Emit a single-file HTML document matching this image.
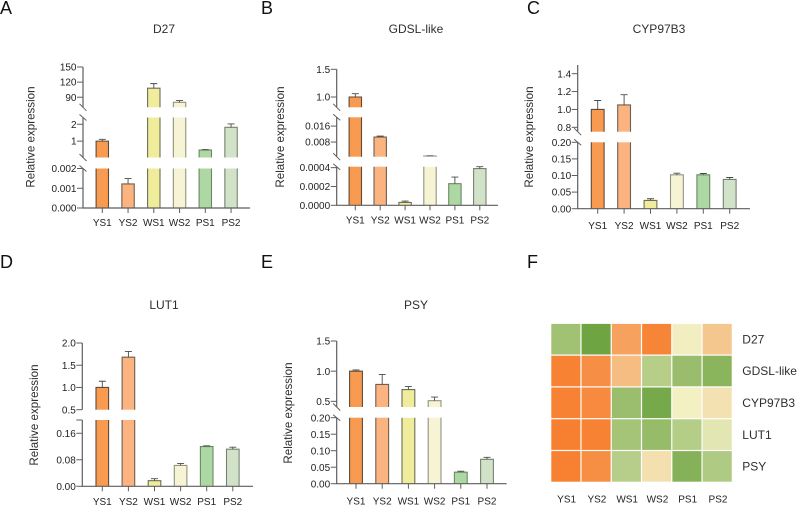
<!DOCTYPE html>
<html lang="en">
<head>
<meta charset="utf-8">
<title>Relative expression of carotenoid genes</title>
<style>
html,body{margin:0;padding:0;background:#fff;width:798px;height:507px;overflow:hidden}
svg{display:block;font-family:"Liberation Sans",sans-serif;fill:#333}
.letter{font-size:18px;fill:#111}
.title{font-size:12px;text-anchor:middle;fill:#2e2e2e}
.ytitle{font-size:11.6px;text-anchor:middle;fill:#2e2e2e}
.tick{font-size:10px;text-anchor:end;fill:#222}
.xlab{font-size:10px;text-anchor:middle;fill:#222}
.rowlab{font-size:12px;fill:#2e2e2e}
</style>
</head>
<body>
<svg id="fig" width="798" height="507" viewBox="0 0 798 507" xmlns="http://www.w3.org/2000/svg">
  <text class="letter" x="0" y="14">A</text>
  <text class="letter" x="261" y="14">B</text>
  <text class="letter" x="527" y="14">C</text>
  <text class="letter" x="0" y="268">D</text>
  <text class="letter" x="261" y="268">E</text>
  <text class="letter" x="527" y="268">F</text>

  <text class="title" x="164" y="33">D27</text>
  <text class="title" x="416" y="33">GDSL-like</text>
  <text class="title" x="659" y="33">CYP97B3</text>
  <text class="title" x="164" y="309">LUT1</text>
  <text class="title" x="416" y="309">PSY</text>

  <text class="ytitle" transform="translate(34.5 137) rotate(-90)">Relative expression</text>
  <text class="ytitle" transform="translate(284 137) rotate(-90)">Relative expression</text>
  <text class="ytitle" transform="translate(533 137) rotate(-90)">Relative expression</text>
  <text class="ytitle" transform="translate(38 415) rotate(-90)">Relative expression</text>
  <text class="ytitle" transform="translate(292 413) rotate(-90)">Relative expression</text>
</svg>
<script>
// ---------- shared categories ----------
const samples = ["YS1", "YS2", "WS1", "WS2", "PS1", "PS2"];

// ---------- D27 ----------
const d27Values = [1, 0.00122, 108, 80, 0.47, 1.82];
const d27Errors = [0.11, 0.00027, 9, 3.4, 0.03, 0.2];
const d27Domains = [[0, 0.002], [0.03, 2.4], [70, 150]];
const d27Ticks = [0, 0.001, 0.002, 1, 2, 90, 120, 150];
const d27TickLabels = ["0.000", "0.001", "0.002", "1", "2", "90", "120", "150"];

// ---------- GDSL-like ----------
const gdslValues = [1, 0.0105, 0.00003, 0.001, 0.00023, 0.00039];
const gdslErrors = [0.06, 0.0005, 0.000015, 0.0001, 0.00007, 0.00002];
const gdslDomains = [[0, 0.00041], [0.00065, 0.0204], [0.814, 1.5]];
const gdslTicks = [0, 0.0002, 0.0004, 0.008, 0.016, 1, 1.5];
const gdslTickLabels = ["0.0000", "0.0002", "0.0004", "0.008", "0.016", "1.0", "1.5"];

// ---------- CYP97B3 ----------
const cypValues = [1, 1.05, 0.025, 0.102, 0.102, 0.088];
const cypErrors = [0.1, 0.115, 0.005, 0.005, 0.004, 0.006];
const cypDomains = [[0, 0.2], [0.751, 1.497]];
const cypTicks = [0, 0.05, 0.1, 0.15, 0.2, 0.8, 1, 1.2, 1.4];
const cypTickLabels = ["0.00", "0.05", "0.10", "0.15", "0.20", "0.8", "1.0", "1.2", "1.4"];

// ---------- LUT1 ----------
const lutValues = [1, 1.68, 0.017, 0.063, 0.12, 0.112];
const lutErrors = [0.14, 0.13, 0.006, 0.006, 0.002, 0.006];
const lutDomains = [[0, 0.2], [0.5, 2]];
const lutTicks = [0, 0.08, 0.16, 0.2, 0.5, 1, 1.5, 2];
const lutTickLabels = ["0.00", "0.08", "0.16", "", "0.5", "1.0", "1.5", "2.0"];

// ---------- PSY ----------
const psyValues = [1, 0.78, 0.695, 0.51, 0.035, 0.074];
const psyErrors = [0.02, 0.165, 0.05, 0.06, 0.003, 0.006];
const psyDomains = [[0, 0.2], [0.406, 1.5]];
const psyTicks = [0, 0.05, 0.1, 0.15, 0.2, 0.5, 1, 1.5];
const psyTickLabels = ["0.00", "0.05", "0.10", "0.15", "0.20", "0.5", "1.0", "1.5"];

// ---------- heatmap ----------
const heatRows = ["D27", "GDSL-like", "CYP97B3", "LUT1", "PSY"];
const heatD27 = [-0.62, -1, 0.69, 0.95, 0.02, 0.36];
const heatGdsl = [0.97, 0.86, 0.45, -0.46, -0.68, -0.79];
const heatCyp = [0.97, 0.9, -0.67, -0.95, 0, 0.13];
const heatLut = [1, 0.97, -0.59, -0.7, -0.47, -0.13];
const heatPsy = [0.99, 0.87, -0.45, 0.14, -0.83, -0.51];

// ---------- drawing ----------
const NS = "http://www.w3.org/2000/svg";
const fig = document.getElementById("fig");
const BAR_FILLS = ["#F89A50", "#FBB380", "#EFEC9C", "#F6F4D4", "#ADD8A3", "#D2E2C9"];
const BAR_STROKES = ["#5f4a38", "#6f5f50", "#6e6e55", "#93937e", "#6a8864", "#75836d"];
const AXIS = "#5e5e5e";

function mk(tag, attrs, parent) {
  const n = document.createElementNS(NS, tag);
  for (const k in attrs) n.setAttribute(k, attrs[k]);
  parent.appendChild(n);
  return n;
}

function drawBarChart(key, cfg) {
  const g = mk("g", {}, fig);
  
  

  const segs = cfg.domains.map((d, i) => ({ lo: d[0], hi: d[1], bottom: cfg.ranges[i][0], top: cfg.ranges[i][1] }));
  const onSeg = (s, v) => s.bottom + (Math.max(v, s.lo) - s.lo) / (s.hi - s.lo) * (s.top - s.bottom);
  const segFor = (v) => {
    for (const s of segs) if (v <= s.hi + 1e-12) return s;
    return segs[segs.length - 1];
  };
  const yScale = (v) => onSeg(segFor(v), v);
  const n = cfg.categories.length;
  const xScale = (i) => cfg.x0 + i * cfg.step;

  // bars
  cfg.values.forEach((v, i) => {
    const cx = xScale(i), left = cx - cfg.barW / 2, right = cx + cfg.barW / 2;
    const stroke = BAR_STROKES[i];
    const bar = mk("g", {}, g);
    
    
    const home = segFor(v);
    for (const s of segs) {
      if (s.lo > v) continue;
      const top = s === home ? onSeg(s, v) : s.top;
      const fill = mk("rect", { x: left, y: top, width: cfg.barW, height: Math.max(0, s.bottom - top), fill: BAR_FILLS[i] }, bar);
      
      
      const outline = mk("path", {
        d: "M" + left + " " + s.bottom + "V" + top + (s === home ? "H" + right : "M" + right + " " + top) + "V" + s.bottom,
        fill: "none", stroke: stroke, "stroke-width": 1.1
      }, bar);
      
      
    }
    const yTop = yScale(v), yErr = onSeg(home, v + cfg.errors[i]);
    const err = mk("path", {
      d: "M" + cx + " " + yTop + "V" + yErr + "M" + (cx - 3.5) + " " + yErr + "H" + (cx + 3.5),
      fill: "none", stroke: "#4a4a4a", "stroke-width": 0.9
    }, bar);
    
    
  });

  // y axis segments + break marks
  segs.forEach((s, idx) => {
    const line = mk("line", { x1: cfg.axisX, x2: cfg.axisX, y1: s.bottom, y2: s.top, stroke: AXIS, "stroke-width": 1.2 }, g);
    
    
    if (cfg.slashes) {
      if (idx > 0) {
        const a = mk("line", { x1: cfg.axisX - 3.5, x2: cfg.axisX + 3.5, y1: s.bottom - 3.5, y2: s.bottom + 3.5, stroke: AXIS, "stroke-width": 1 }, g);
        
        
      }
      if (idx < segs.length - 1) {
        const b = mk("line", { x1: cfg.axisX - 3.5, x2: cfg.axisX + 3.5, y1: s.top - 3, y2: s.top + 3, stroke: AXIS, "stroke-width": 1 }, g);
        
        
      }
    }
  });

  // y ticks
  cfg.ticks.forEach((t, i) => {
    const y = yScale(t);
    const tick = mk("line", { x1: cfg.axisX - 6, x2: cfg.axisX, y1: y, y2: y, stroke: AXIS, "stroke-width": 1 }, g);
    
    
    if (cfg.tickLabels[i]) {
      const lab = mk("text", { class: "tick", x: cfg.axisX - 6.5, y: y + 3.6 }, g);
      lab.textContent = cfg.tickLabels[i];
      
      
    }
  });

  // x axis
  const xAxis = mk("line", { x1: cfg.axisX - 0.6, x2: cfg.axisEnd, y1: segs[0].bottom, y2: segs[0].bottom, stroke: AXIS, "stroke-width": 1.2 }, g);
  
  
  for (let i = 0; i < n; i++) {
    const cx = xScale(i);
    const tick = mk("line", { x1: cx, x2: cx, y1: segs[0].bottom, y2: segs[0].bottom + 5, stroke: AXIS, "stroke-width": 1 }, g);
    
    
    const lab = mk("text", { class: "xlab", x: cx, y: cfg.labelY }, g);
    lab.textContent = cfg.categories[i];
    
    
  }
}

drawBarChart("d27", {
  categories: samples, values: d27Values, errors: d27Errors, domains: d27Domains,
  ticks: d27Ticks, tickLabels: d27TickLabels,
  ranges: [[208, 168.5], [157.5, 117.5], [107.3, 67]],
  slashes: true, axisX: 83, axisEnd: 250, x0: 102.3, step: 25.75, barW: 12.4, labelY: 226
});
drawBarChart("gdsl-like", {
  categories: samples, values: gdslValues, errors: gdslErrors, domains: gdslDomains,
  ticks: gdslTicks, tickLabels: gdslTickLabels,
  ranges: [[205.3, 166.7], [156.7, 117.3], [107.3, 69.3]],
  slashes: true, axisX: 336.7, axisEnd: 498, x0: 355.3, step: 24.9, barW: 12.4, labelY: 223.5
});
drawBarChart("cyp97b3", {
  categories: samples, values: cypValues, errors: cypErrors, domains: cypDomains,
  ticks: cypTicks, tickLabels: cypTickLabels,
  ranges: [[208.7, 142.3], [131.7, 65]],
  slashes: true, axisX: 577.7, axisEnd: 750, x0: 597.7, step: 26.4, barW: 12.8, labelY: 229
});
drawBarChart("lut1", {
  categories: samples, values: lutValues, errors: lutErrors, domains: lutDomains,
  ticks: lutTicks, tickLabels: lutTickLabels,
  ranges: [[486.3, 420], [409.7, 343]],
  slashes: false, axisX: 82.3, axisEnd: 253, x0: 102.3, step: 26.1, barW: 12.6, labelY: 505
});
drawBarChart("psy", {
  categories: samples, values: psyValues, errors: psyErrors, domains: psyDomains,
  ticks: psyTicks, tickLabels: psyTickLabels,
  ranges: [[483.7, 417.7], [407, 341]],
  slashes: true, axisX: 336.7, axisEnd: 506.7, x0: 356, step: 26.2, barW: 12.8, labelY: 504.5
});

// heatmap
const GREEN = [110, 165, 66], MID = [243, 240, 196], ORANGE = [247, 127, 48];
function heatColor(v) {
  const t = Math.min(1, Math.abs(v));
  const end = v < 0 ? GREEN : ORANGE;
  return "rgb(" + MID.map((m, i) => Math.round(m + (end[i] - m) * t)).join(",") + ")";
}
function drawHeatmap() {
  const matrix = [heatD27, heatGdsl, heatCyp, heatLut, heatPsy];
  const left = 550.7, top = 323.3, cw = 30.27, ch = 31.8, gap = 1.2;
  const g = mk("g", {}, fig);
  
  
  matrix.forEach((row, r) => {
    row.forEach((v, c) => {
      const cell = mk("rect", {
        x: left + c * cw + gap / 2, y: top + r * ch + gap / 2,
        width: cw - gap, height: ch - gap, fill: heatColor(v)
      }, g);
      
      
    });
    const lab = mk("text", { class: "rowlab", x: 742.3, y: top + r * ch + ch / 2 + 4.2 }, g);
    lab.textContent = heatRows[r];
    
    
  });
  samples.forEach((s, c) => {
    const lab = mk("text", { class: "xlab", x: left + (c + 0.5) * cw + 0.8, y: 502.7 }, g);
    lab.textContent = s;
    
    
  });
}
drawHeatmap();
</script>
</body>
</html>
